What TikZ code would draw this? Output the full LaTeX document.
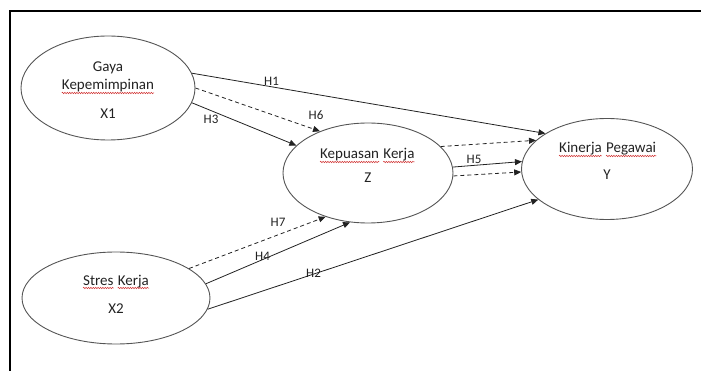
\documentclass[tikz,border=0pt]{standalone}
\usepackage{fontspec}
\setmainfont{Carlito}
\usetikzlibrary{arrows.meta,shapes.geometric,decorations.pathmorphing}
\definecolor{linecol}{HTML}{222222}
\definecolor{ellcol}{HTML}{555555}
\definecolor{txtcol}{HTML}{222222}
\definecolor{spellred}{HTML}{D03030}
\tikzset{
  var/.style={ellipse, draw=ellcol, line width=0.9pt, inner sep=0pt},
  vtext/.style={anchor=base, text=txtcol, font=\fontsize{15}{18}\selectfont, inner sep=0pt},
  wtext/.style={vtext, anchor=base west},
  hlab/.style={anchor=base, text=txtcol, font=\fontsize{13}{15}\selectfont, inner sep=0pt},
  solidarrow/.style={draw=linecol, line width=0.8pt, -{Triangle[length=7pt,width=6pt]}},
  dasharrow/.style={solidarrow, dash pattern=on 4pt off 3pt},
  frameline/.style={draw=black, line width=2pt},
  squig/.style={draw=spellred, line width=0.5pt, decorate, decoration={snake, segment length=2.4pt, amplitude=0.7pt}}
}
\newcommand\squnder[1]{\draw[squig] ([yshift=-3pt]#1.base west) -- ([yshift=-3pt]#1.base east);}
\begin{document}
\begin{tikzpicture}[x=1pt,y=-1pt]
\useasboundingbox (0,0) rectangle (701,371);
\draw[frameline] (10,371) -- (10,11) -- (701,11);

% ellipses
\node[var, minimum width=174pt, minimum height=104pt] (x1) at (108,88) {};
\node[var, minimum width=170pt, minimum height=100pt] (z) at (368,173) {};
\node[var, minimum width=171pt, minimum height=101pt] (y) at (607,169) {};
\node[var, minimum width=188pt, minimum height=92pt] (x2) at (116,298) {};

% texts
\node[vtext] (tx1a) at (108,72) {Gaya};
\node[vtext] (tx1b) at (108,90) {Kepemimpinan};
\node[vtext] (tx1c) at (108,119) {X1};
\node[wtext] (tza1) at (320,159) {Kepuasan};
\node[wtext, xshift=4pt] (tza2) at (tza1.base east) {Kerja};
\node[vtext] (tzb) at (368,183) {Z};
\node[wtext] (tya1) at (559,153) {Kinerja};
\node[wtext, xshift=4pt] (tya2) at (tya1.base east) {Pegawai};
\node[vtext] (tyb) at (607,180) {Y};
\node[wtext] (tx2a1) at (83,285) {Stres};
\node[wtext, xshift=4pt] (tx2a2) at (tx2a1.base east) {Kerja};
\node[vtext] (tx2b) at (116,313) {X2};

% spell-check underlines
\squnder{tx1b}
\squnder{tza1}
\squnder{tza2}
\squnder{tya1}
\squnder{tya2}
\squnder{tx2a1}
\squnder{tx2a2}

% connectors
\draw[solidarrow] (x1.10) -- (y.150);
\draw[dasharrow] (x1.0) -- (z.139);
\draw[solidarrow] (x1.-10) -- (z.159);
\draw[dasharrow] (z.20) -- (y.158);
\draw[solidarrow] (z.4.6) -- (y.175.3);
\draw[dasharrow] (z.-2.6) -- (y.182);
\draw[dasharrow] (x2.22) -- (z.226);
\draw[solidarrow] (x2.9.6) -- (z.250);
\draw[solidarrow] (x2.-7.5) -- (y.204.6);

% labels
\node[hlab] (h1) at (271.5,86) {H1};
\node[hlab] (h6) at (316,120) {H6};
\node[hlab] (h3) at (211,124) {H3};
\node[hlab] (h5) at (474,164) {H5};
\node[hlab] (h7) at (278,227) {H7};
\node[hlab] (h4) at (262.5,261) {H4};
\node[hlab] (h2) at (313.5,277) {H2};
\end{tikzpicture}
\end{document}
